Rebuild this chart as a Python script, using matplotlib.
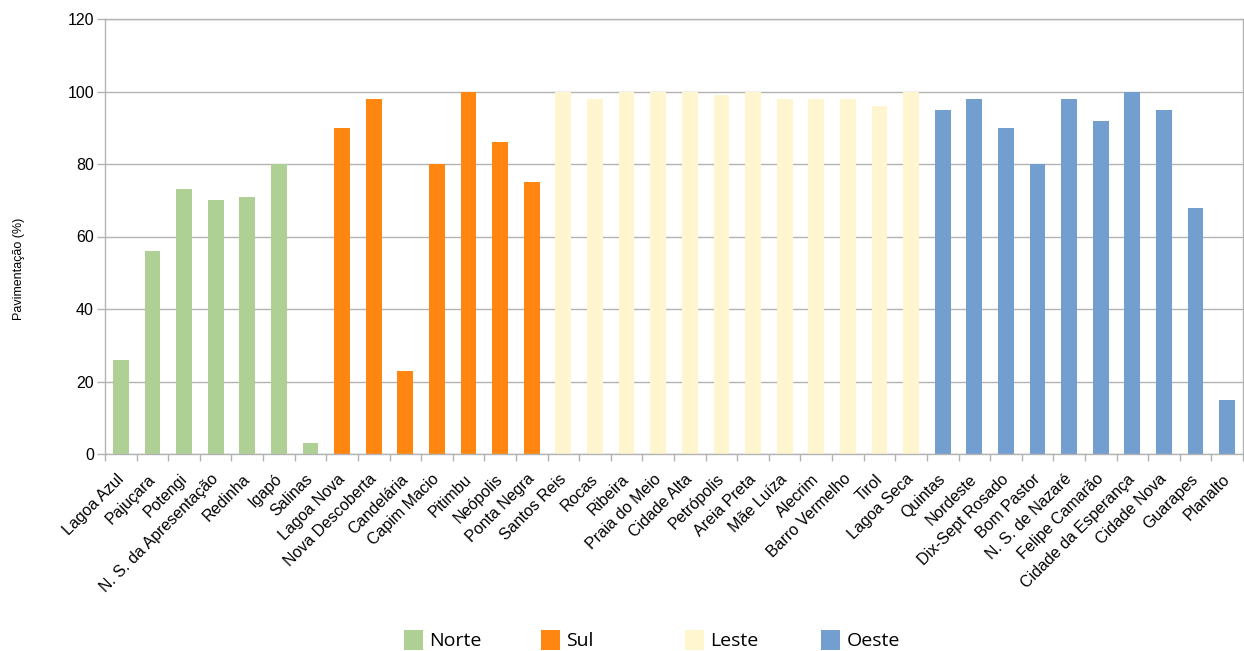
import numpy as np
import matplotlib.pyplot as plt
from matplotlib.transforms import ScaledTranslation

# bairros de Natal, agrupados por região
norte = ["Lagoa Azul", "Pajuçara", "Potengi", "N. S. da Apresentação", "Redinha", "Igapó", "Salinas"]
norte_val = [26, 56, 73, 70, 71, 80, 3]

sul = ["Lagoa Nova", "Nova Descoberta", "Candelária", "Capim Macio", "Pitimbu", "Neópolis", "Ponta Negra"]
sul_val = [90, 98, 23, 80, 100, 86, 75]

leste = ["Santos Reis", "Rocas", "Ribeira", "Praia do Meio", "Cidade Alta", "Petrópolis",
         "Areia Preta", "Mãe Luíza", "Alecrim", "Barro Vermelho", "Tirol", "Lagoa Seca"]
leste_val = [100, 98, 100, 100, 100, 99, 100, 98, 98, 98, 96, 100]

oeste = ["Quintas", "Nordeste", "Dix-Sept Rosado", "Bom Pastor", "N. S. de Nazaré",
         "Felipe Camarão", "Cidade da Esperança", "Cidade Nova", "Guarapes", "Planalto"]
oeste_val = [95, 98, 90, 80, 98, 92, 100, 95, 68, 15]

regioes = ["Norte", "Sul", "Leste", "Oeste"]
cores = ["#afd095", "#ff8611", "#fff5ce", "#729fcf"]

grupos = [(norte, norte_val), (sul, sul_val), (leste, leste_val), (oeste, oeste_val)]
bairros = norte + sul + leste + oeste

plt.rcParams["font.family"] = ["Liberation Sans", "DejaVu Sans"]
grid_cor = "#b3b3b3"

fig = plt.figure(figsize=(12.44, 6.51), dpi=100)
ax = fig.add_axes([105 / 1244, 197 / 651, 1138 / 1244, 435 / 651])

barras = []
inicio = 0
for (nomes, vals), reg, cor in zip(grupos, regioes, cores):
    x = np.arange(inicio, inicio + len(nomes))
    b = ax.bar(x, vals, width=0.5, color=cor, label=reg, zorder=2)
    barras.append(b)
    inicio += len(nomes)

ax.set_xlim(-0.5, len(bairros) - 0.5)
ax.set_ylim(0, 120)
ax.set_yticks(np.arange(0, 121, 20))
ax.set_axisbelow(True)
ax.yaxis.grid(True, color=grid_cor, linewidth=1.0)

# rótulos no centro das barras, marcas nas divisas
ax.set_xticks(np.arange(len(bairros)))
ax.set_xticklabels(bairros, rotation=45, ha="right", va="top", rotation_mode="anchor")
ax.set_xticks(np.arange(-0.5, len(bairros)), minor=True)
ax.tick_params(axis="x", which="major", length=0, pad=12.5, labelsize=11.5)
ax.tick_params(axis="x", which="minor", length=5, width=1, color=grid_cor, direction="out")
ax.tick_params(axis="y", length=6, width=1, color=grid_cor, labelsize=11.5, pad=2)

desloc = ScaledTranslation(-5 / 100, 0, fig.dpi_scale_trans)
for lab in ax.get_xticklabels():
    lab.set_transform(lab.get_transform() + desloc)

for s in ax.spines.values():
    s.set_color(grid_cor)
    s.set_linewidth(1.0)

ax.set_ylabel("Pavimentação (%)", fontsize=9)
ax.yaxis.set_label_coords(-0.070, 0.425)

# legenda em quatro caixas, uma por região
posicoes = [404, 541, 685, 821]
for b, reg, px in zip(barras, regioes, posicoes):
    fig.legend([b], [reg], loc="center left", bbox_to_anchor=(px / 1244, 1 - 640 / 651),
               frameon=False, borderpad=0, borderaxespad=0, handlelength=1.0,
               handleheight=1.2, handletextpad=0.3,
               prop={"family": "Open Sans", "size": 14})

fig.savefig("out.png", dpi=100)
